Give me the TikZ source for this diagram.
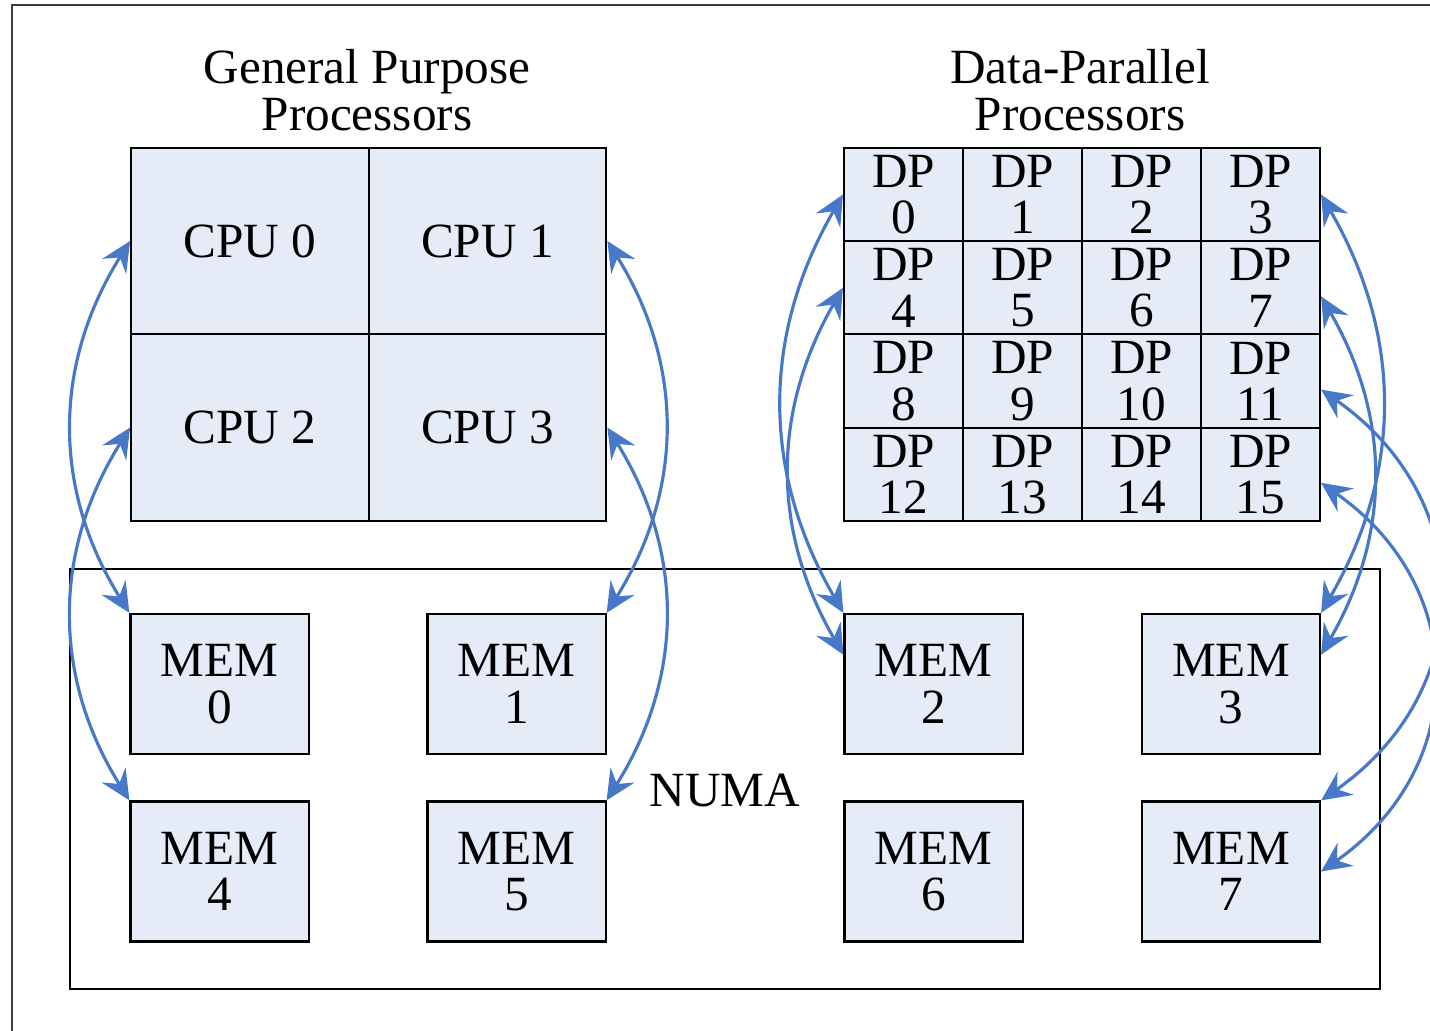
\documentclass[tikz,border=0pt]{standalone}
\usepackage{fontspec}
\setmainfont{Liberation Serif}
\usetikzlibrary{arrows.meta}
\definecolor{cellfill}{RGB}{230,236,247}
\definecolor{arrblue}{RGB}{72,120,200}
\definecolor{framegray}{RGB}{60,60,60}
\tikzset{
  cell/.style={draw=black, fill=cellfill, line width=0.6pt, inner sep=0pt, align=center},
  cpucell/.style={cell, minimum width=2.375cm, minimum height=1.865cm},
  dpcell/.style={cell, minimum width=1.19cm, minimum height=0.9325cm},
  membox/.style={cell, minimum width=1.78cm, minimum height=1.4cm},
  titletext/.style={align=center, inner sep=0pt},
  memlink/.style={draw=arrblue, line width=0.9pt,
    {Stealth[length=8.5pt,width=8pt,inset=3pt]}-{Stealth[length=8.5pt,width=8pt,inset=3pt]}}
}
\begin{document}
\begin{tikzpicture}[x=0.01cm, y=-0.01cm, font=\fontsize{14pt}{13.2pt}\selectfont]
\useasboundingbox (0,0) rectangle (1430,1031);
% outer frame (cut off at right and bottom)
\draw[framegray, line width=0.8pt] (12,1031) -- (12,5) -- (1430,5);

% titles
\node[titletext] (gptitle) at (367,90) {General Purpose\\Processors};
\node[titletext] (dptitle) at (1080,90) {Data-Parallel\\Processors};

% NUMA box
\node[draw=black, line width=0.6pt, minimum width=13.1cm, minimum height=4.2cm] (numa) at (725,779) {};
\node (numalabel) at (725,790) {NUMA};

% CPUs
\node[cpucell] (cpu0) at (250,241) {CPU 0};
\node[cpucell] (cpu1) at (487.5,241) {CPU 1};
\node[cpucell] (cpu2) at (250,427.5) {CPU 2};
\node[cpucell] (cpu3) at (487.5,427.5) {CPU 3};

% DPs
\foreach \r in {0,...,3} {
  \foreach \c in {0,...,3} {
    \pgfmathtruncatemacro\n{4*\r+\c}
    \node[dpcell] (dp\n) at ({903.5+119*\c},{194.6+93.25*\r}) {DP\\\n};
  }
}

% memories
\node[membox] (mem0) at (219.5,684) {MEM\\0};
\node[membox] (mem1) at (516.5,684) {MEM\\1};
\node[membox] (mem2) at (933.5,684) {MEM\\2};
\node[membox] (mem3) at (1231,684) {MEM\\3};
\node[membox] (mem4) at (219.5,871.5) {MEM\\4};
\node[membox] (mem5) at (516.5,871.5) {MEM\\5};
\node[membox] (mem6) at (933.5,871.5) {MEM\\6};
\node[membox] (mem7) at (1231,871.5) {MEM\\7};

% links
\draw[memlink] (cpu0.west) to[bend right=32] (mem0.north west);
\draw[memlink] (cpu2.west) to[bend right=32] (mem4.north west);
\draw[memlink] (cpu1.east) to[bend left=32] (mem1.north east);
\draw[memlink] (cpu3.east) to[bend left=32] (mem5.north east);
\draw[memlink] (dp0.west) to[bend right=30] (mem2.north west);
\draw[memlink] (dp4.west) to[bend right=30] (mem2.162);
\draw[memlink] (dp3.east) to[bend left=30] (mem3.north east);
\draw[memlink] (dp7.-8) to[bend left=30] (mem3.18);
\draw[memlink] (dp11.-8) to[bend left=55, looseness=1.2] (mem7.north east);
\draw[memlink] (dp15.-8) to[bend left=55, looseness=1.2] (mem7.east);
\end{tikzpicture}
\end{document}
